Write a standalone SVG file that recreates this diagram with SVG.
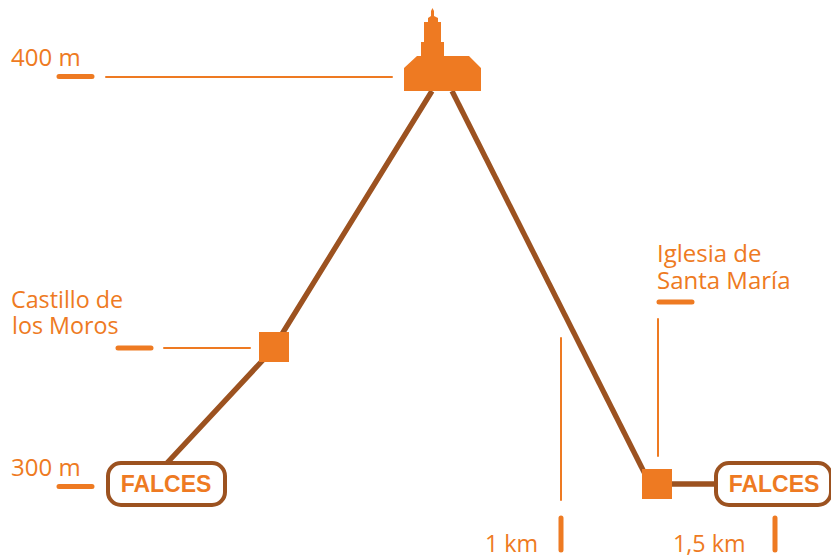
<svg xmlns="http://www.w3.org/2000/svg" width="831" height="559" viewBox="0 0 831 559">
<style>
.lbl{font-family:"Open Sans","Noto Sans",sans-serif;font-size:23.300px;fill:#ee7a22}
.big{font-size:24px}
.fal{font-family:"Liberation Sans",Arial,sans-serif;font-size:23px;font-weight:700;fill:#ee7a22;text-anchor:middle}
.box{fill:#fff;stroke:#9c5220;stroke-width:4}
.route{fill:none;stroke:#9c5220;stroke-width:5.300}
.thin{fill:none;stroke:#ee7a22;stroke-width:2;stroke-linecap:round}
.thick{fill:none;stroke:#ee7a22;stroke-width:5;stroke-linecap:round}
.sq{fill:#ee7a22}
</style>
<rect width="831" height="559" fill="#fff"/>
<g id="connectors">
<path class="route" d="M167 463L263 360M282 334L432 91"/>
<path class="route" d="M452 91L645 474"/>
<path class="route" d="M672 484H716"/>
<path class="thin" d="M106 77H392M164 348H250M561 338V500M658 319V456"/>
<path class="thick" d="M59 76.500H92M118 348H151M59 486.500H92M561 518V550M775 518V550M659 302H692"/>
</g>
<g id="church"><path class="sq" d="M404 91V68L417 56H421V42H424V22H428V18L431 16V11L432.500 8L434 11V16L438 18V22H441V42H444V56H469L481 68V91Z"/></g>
<g id="castillo"><rect class="sq" x="259" y="332" width="30" height="30"/></g>
<g id="iglesia"><rect class="sq" x="642" y="469" width="30" height="30"/></g>
<g id="falces-left"><rect class="box" x="108" y="463" width="117" height="42" rx="13"/><text class="fal" x="166" y="492">FALCES</text></g>
<g id="falces-right"><rect class="box" x="716" y="463" width="115" height="42" rx="13"/><text class="fal" x="774" y="492">FALCES</text></g>
<g id="labels">
<text class="lbl big" x="11" y="66">400 m</text>
<text class="lbl big" x="11" y="476">300 m</text>
<text class="lbl" x="11" y="308">Castillo de</text>
<text class="lbl" x="12" y="334">los Moros</text>
<text class="lbl big" x="657" y="262">Iglesia de</text>
<text class="lbl big" x="657" y="289">Santa María</text>
<text class="lbl" x="485" y="552">1 km</text>
<text class="lbl" x="673" y="552">1,5 km</text>
</g>
</svg>
